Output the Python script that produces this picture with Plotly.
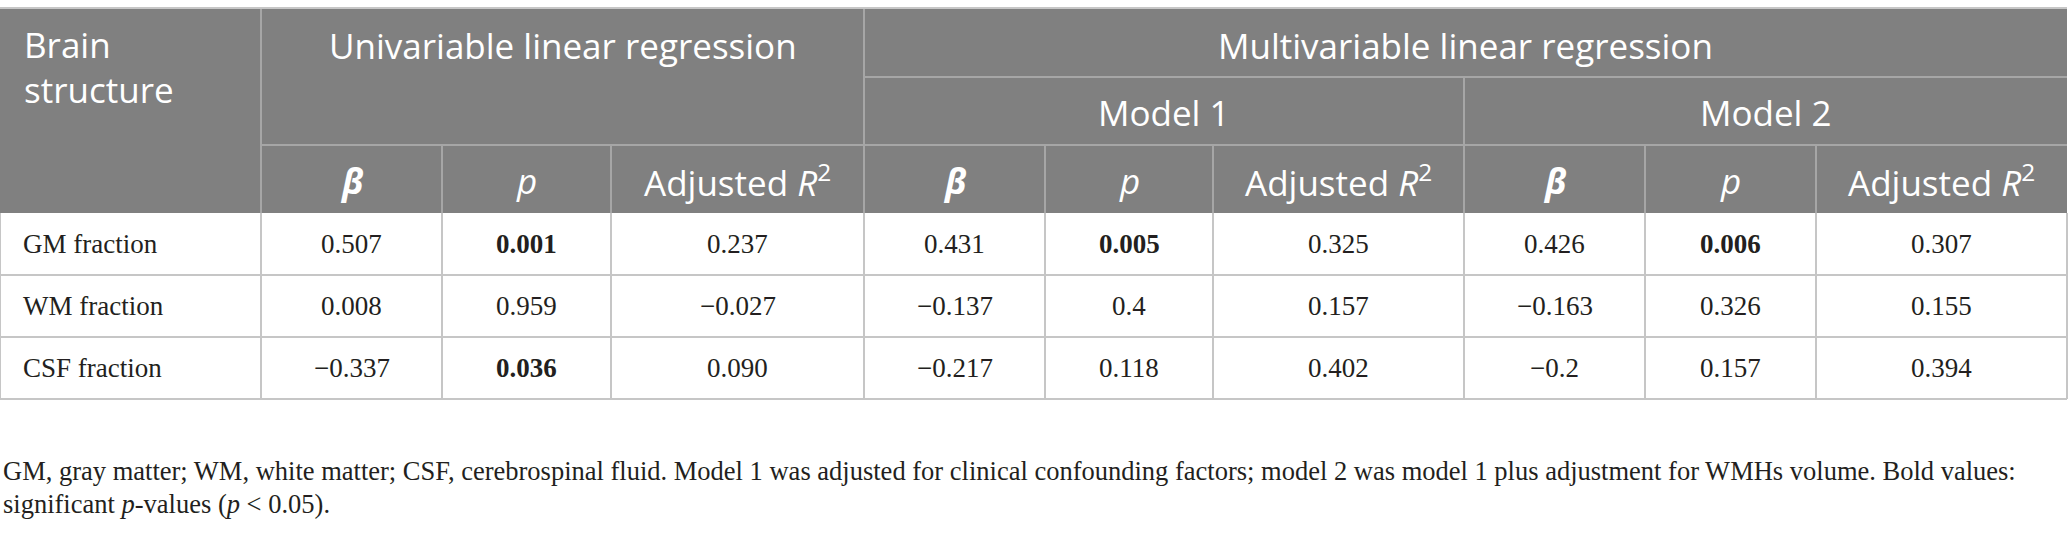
'''
Tableau : régression linéaire univariable / multivariable par structure cérébrale
'''

import plotly.graph_objects as go

# --- données du tableau ---
structures = ['GM fraction', 'WM fraction', 'CSF fraction']

uni_beta = ['0.507', '0.008', '\u22120.337']
uni_p = ['0.001', '0.959', '0.036']
uni_r2 = ['0.237', '\u22120.027', '0.090']

m1_beta = ['0.431', '\u22120.137', '\u22120.217']
m1_p = ['0.005', '0.4', '0.118']
m1_r2 = ['0.325', '0.157', '0.402']

m2_beta = ['0.426', '\u22120.163', '\u22120.2']
m2_p = ['0.006', '0.326', '0.157']
m2_r2 = ['0.307', '0.155', '0.394']

group_labels = ['Univariable linear regression', 'Multivariable linear regression']
model_labels = ['Model 1', 'Model 2']
stat_labels = ['<b><i>\u03b2</i></b>', '<i>p</i>', 'Adjusted <i>R</i><sup>2</sup>']
first_col_label = ['Brain', 'structure']

footnote_lines = [
    'GM, gray matter; WM, white matter; CSF, cerebrospinal fluid. Model 1 was adjusted for clinical '
    'confounding factors; model 2 was model 1 plus adjustment for WMHs volume. Bold values:',
    'significant <i>p</i>-values (<i>p</i> &lt; 0.05).',
]

# --- géométrie (pixels) ---
W, H = 2068, 543
col_edges = [0, 261, 442, 611, 864, 1045, 1213, 1464, 1645, 1816, 2067]
row_edges = [9, 77, 145, 213, 275, 337, 399]

HEAD_BG = '#808080'
HEAD_LINE = '#a6a6a6'
BODY_LINE = '#c6c6c6'
TXT = '#231f20'
SANS = 'Open Sans, Noto Sans, sans-serif'
SERIF = 'Liberation Serif, DejaVu Serif, serif'

shapes = []
annotations = []


def line(x0, y0, x1, y1, color, width=2):
    shapes.append(dict(type='line', xref='x', yref='y', x0=x0, y0=y0, x1=x1, y1=y1,
                       line=dict(color=color, width=width)))


def text(x, y, s, font, size, color, xanchor='center', bold=False):
    if bold:
        s = f'<b>{s}</b>'
    annotations.append(dict(x=x, y=y, xref='x', yref='y', text=s, showarrow=False,
                            xanchor=xanchor, yanchor='middle', align='left',
                            font=dict(family=font, size=size, color=color)))


def mid(a, b):
    return (a + b) / 2


x_left, x_right = col_edges[0], col_edges[-1]
r0, r1, r2, r3 = row_edges[:4]

# fond de l'en-tête
shapes.append(dict(type='rect', xref='x', yref='y', x0=x_left, y0=r0, x1=x_right, y1=r3,
                   fillcolor=HEAD_BG, line=dict(width=0), layer='below'))
line(x_left, r0 - 1, x_right, r0 - 1, BODY_LINE, 2)

# lignes de l'en-tête
line(col_edges[1], r0, col_edges[1], r3, HEAD_LINE)
line(col_edges[4], r0, col_edges[4], r3, HEAD_LINE)
line(col_edges[4], r1, x_right, r1, HEAD_LINE)
line(col_edges[1], r2, x_right, r2, HEAD_LINE)
line(col_edges[7], r1, col_edges[7], r3, HEAD_LINE)
for i in [2, 3, 5, 6, 8, 9]:
    line(col_edges[i], r2, col_edges[i], r3, HEAD_LINE)

# textes de l'en-tête
HS = 35
text(x_left + 22, 44, first_col_label[0], SANS, HS, 'white', xanchor='left')
text(x_left + 22, 89, first_col_label[1], SANS, HS, 'white', xanchor='left')
text(mid(col_edges[1], col_edges[4]), 45, group_labels[0], SANS, HS, 'white')
text(mid(col_edges[4], x_right), 45, group_labels[1], SANS, HS, 'white')
text(mid(col_edges[4], col_edges[7]), 112, model_labels[0], SANS, HS, 'white')
text(mid(col_edges[7], x_right), 112, model_labels[1], SANS, HS, 'white')
for g in range(3):
    for k in range(3):
        c = 1 + 3 * g + k
        text(mid(col_edges[c], col_edges[c + 1]), 180, stat_labels[k], SANS, HS, 'white')

# corps du tableau
body_rows = row_edges[3:]
for y in body_rows[1:]:
    line(x_left, y, x_right, y, BODY_LINE)
for x in col_edges:
    line(x, r3, x, body_rows[-1], BODY_LINE)

columns = [uni_beta, uni_p, uni_r2, m1_beta, m1_p, m1_r2, m2_beta, m2_p, m2_r2]
p_cols = {1, 4, 7}
BS = 27
for i, name in enumerate(structures):
    yc = mid(body_rows[i], body_rows[i + 1])
    text(x_left + 21, yc, name, SERIF, BS, TXT, xanchor='left')
    for j, col in enumerate(columns):
        val = col[i]
        bold = j in p_cols and float(val) < 0.05
        text(mid(col_edges[j + 1], col_edges[j + 2]), yc, val, SERIF, BS, TXT, bold=bold)

# note de bas de tableau
for k, s in enumerate(footnote_lines):
    text(1, 471 + 33 * k, s, SERIF, 26.5, TXT, xanchor='left')

fig = go.Figure()
fig.update_layout(
    width=W, height=H,
    margin=dict(l=0, r=0, t=0, b=0),
    paper_bgcolor='white', plot_bgcolor='white',
    xaxis=dict(range=[0, W], visible=False, fixedrange=True),
    yaxis=dict(range=[H, 0], visible=False, fixedrange=True),
    shapes=shapes,
    annotations=annotations,
    showlegend=False,
)

# marge du body à zéro pour que la figure occupe toute la fenêtre
fig.write_html('out.html', config={'displayModeBar': False},
               post_script="document.body.style.margin='0';")
